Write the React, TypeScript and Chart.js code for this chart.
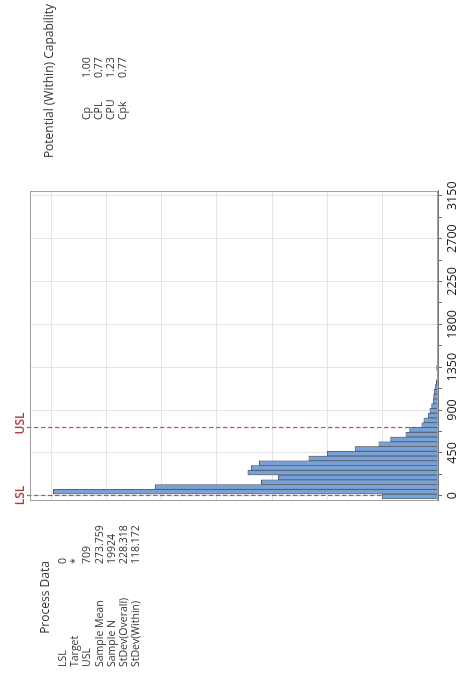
import React, { useEffect, useRef } from 'react';
import { Chart, registerables } from 'chart.js';

Chart.register(...registerables);

// Histogram bins (midpoints, width 50) and their counts
const binMidpoints = [
  -7.5, 42.5, 92.5, 142.5, 192.5, 242.5, 292.5, 342.5, 392.5, 442.5,
  492.5, 542.5, 592.5, 642.5, 692.5, 742.5, 792.5, 842.5, 892.5, 942.5,
  992.5, 1042.5, 1092.5, 1142.5, 1192.5, 1242.5, 1292.5, 1342.5, 1392.5,
];
const binCounts = [
  506, 3478, 2558, 1597, 1444, 1720, 1688, 1615, 1169, 1001,
  750, 536, 428, 292, 256, 147, 129, 88, 75, 57,
  45, 39, 33, 27, 14, 5, 4, 12, 2,
];
const majorTicks = [0, 450, 900, 1350, 1800, 2250, 2700, 3150];
const minorTicks = [225, 675, 1125, 1575, 2025, 2475, 2925];
const countGrid = [500, 1000, 1500, 2000, 2500, 3000, 3500];
const LSL = 0;
const USL = 709;

const processLabels = ['LSL', 'Target', 'USL', 'Sample Mean', 'Sample N', 'StDev(Overall)', 'StDev(Within)'];
const processValues = ['0', '*', '709', '273.759', '19924', '228.318', '118.172'];
const capLabels = ['Cp', 'CPL', 'CPU', 'Cpk'];
const capValues = ['1.00', '0.77', '1.23', '0.77'];

const FONT = '"Open Sans", "DejaVu Sans", sans-serif';
const TEXT = '#333333';

const specPlugin = {
  id: 'specLines',
  beforeDatasetsDraw(chart: any) {
    const { ctx, chartArea, scales } = chart;
    const x = scales.x;
    ctx.save();
    [{ v: LSL, t: 'LSL', shift: 0 }, { v: USL, t: 'USL', shift: 4 }].forEach(({ v, t, shift }) => {
      const px = Math.round(x.getPixelForValue(v)) + 0.5;
      ctx.strokeStyle = '#d9464b';
      ctx.lineWidth = 1.2;
      ctx.setLineDash([4.5, 2.5]);
      ctx.beginPath();
      ctx.moveTo(px, chartArea.top - 3);
      ctx.lineTo(px, chartArea.bottom);
      ctx.stroke();
      ctx.setLineDash([]);
      ctx.fillStyle = '#b23a3e';
      ctx.font = `600 12px ${FONT}`;
      ctx.textAlign = 'center';
      ctx.textBaseline = 'middle';
      ctx.fillText(t, px + shift, chartArea.top - 9);
    });
    ctx.restore();
  },
};

const framePlugin = {
  id: 'frame',
  afterDatasetsDraw(chart: any) {
    const { ctx, chartArea } = chart;
    ctx.save();
    ctx.strokeStyle = '#a0a0a0';
    ctx.lineWidth = 1;
    ctx.strokeRect(
      Math.round(chartArea.left) + 0.5,
      Math.round(chartArea.top) + 0.5,
      Math.round(chartArea.right - chartArea.left) - 1,
      Math.round(chartArea.bottom - chartArea.top) - 1,
    );
    ctx.restore();
  },
};

function Txt(props: { left: number; cy: number; size: number; children: any; width?: number; align?: any }) {
  const { left, cy, size, children, width, align } = props;
  return (
    <div
      style={{
        position: 'absolute',
        left,
        top: cy - 8,
        height: 16,
        lineHeight: '16px',
        width: width,
        textAlign: align || 'left',
        fontSize: size,
        fontFamily: FONT,
        color: TEXT,
        whiteSpace: 'nowrap',
      }}
    >
      {children}
    </div>
  );
}

export default function App() {
  const ref = useRef<HTMLCanvasElement | null>(null);

  useEffect(() => {
    if (!ref.current) return;
    const chart = new Chart(ref.current, {
      type: 'bar',
      data: {
        datasets: [
          {
            data: binMidpoints.map((m, i) => ({ x: m, y: binCounts[i] })),
            backgroundColor: '#78a1d8',
            borderColor: '#53575e',
            borderWidth: 0.8,
            barPercentage: 1,
            categoryPercentage: 1,
          } as any,
        ],
      },
      options: {
        animation: false,
        responsive: false,
        maintainAspectRatio: false,
        devicePixelRatio: 1,
        layout: { padding: { left: 174, right: 191, top: 30, bottom: 0 } },
        plugins: { legend: { display: false }, tooltip: { enabled: false } },
        scales: {
          x: {
            type: 'linear',
            min: -55,
            max: 3200,
            offset: false,
            afterBuildTicks: (s: any) => {
              s.ticks = [...majorTicks, ...minorTicks].sort((a, b) => a - b).map((v) => ({ value: v }));
            },
            afterFit: (s: any) => {
              s.height = 24;
            },
            grid: {
              offset: false,
              color: (c: any) => (c.tick && majorTicks.includes(c.tick.value) ? '#e4e4e4' : 'rgba(0,0,0,0)'),
              tickColor: '#6a6a6a',
              tickLength: 4,
            },
            border: { display: true, color: '#7a7a7a' },
            ticks: {
              autoSkip: false,
              maxRotation: 0,
              minRotation: 0,
              padding: 3,
              color: '#222',
              font: { family: FONT, size: 12.5 },
              callback: (v: any) => (majorTicks.includes(Number(v)) ? String(v) : ''),
            },
          },
          y: {
            type: 'linear',
            min: 0,
            max: 3690,
            afterBuildTicks: (s: any) => {
              s.ticks = countGrid.map((v) => ({ value: v }));
            },
            afterFit: (s: any) => {
              s.width = 0;
            },
            ticks: { display: false },
            grid: { color: '#e4e4e4', drawTicks: false },
            border: { display: false },
          },
        },
      } as any,
      plugins: [specPlugin, framePlugin],
    });
    return () => chart.destroy();
  }, []);

  return (
    <div style={{ position: 'fixed', left: 0, top: 0, width: 462, height: 675, overflow: 'hidden', background: '#fff' }}>
      <div
        style={{
          position: 'absolute',
          left: 0,
          top: 0,
          width: 675,
          height: 462,
          transformOrigin: '0 0',
          transform: 'translate(0px, 675px) rotate(-90deg)',
          background: '#fff',
        }}
      >
        <canvas ref={ref} width={675} height={462} style={{ position: 'absolute', left: 0, top: 0, width: 675, height: 462 }} />

        {/* Process Data panel */}
        <Txt left={17.5} width={120} align="center" cy={45} size={12}>Process Data</Txt>
        {processLabels.map((l, i) => (
          <Txt key={'pl' + i} left={8} cy={62 + i * 12.2} size={10.5}>{l}</Txt>
        ))}
        {processValues.map((v, i) => (
          <Txt key={'pv' + i} left={111} cy={62 + i * 12.2} size={10.5}>{v}</Txt>
        ))}

        {/* Potential (Within) Capability panel */}
        <Txt left={494} width={200} align="center" cy={49} size={12}>Potential (Within) Capability</Txt>
        {capLabels.map((l, i) => (
          <Txt key={'cl' + i} left={555} cy={86 + i * 12} size={10.5}>{l}</Txt>
        ))}
        {capValues.map((v, i) => (
          <Txt key={'cv' + i} left={597} cy={86 + i * 12} size={10.5}>{v}</Txt>
        ))}
      </div>
    </div>
  );
}
